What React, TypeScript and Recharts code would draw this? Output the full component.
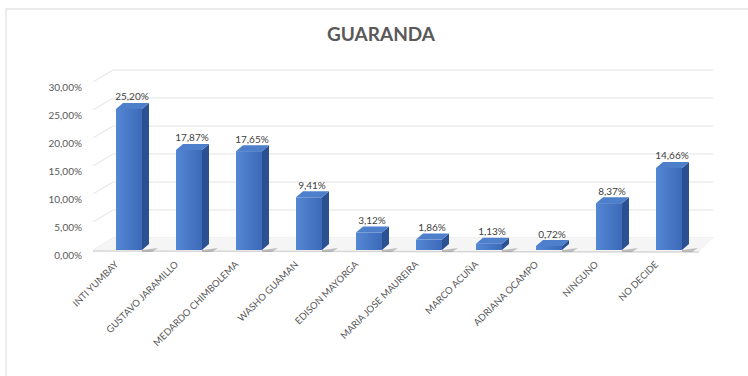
import { Bar, BarChart, CartesianGrid, LabelList, XAxis, YAxis } from 'recharts'

const candidates = ['INTI YUMBAY', 'GUSTAVO JARAMILLO', 'MEDARDO CHIMBOLEMA', 'WASHO GUAMAN', 'EDISON MAYORGA', 'MARIA JOSE MAUREIRA', 'MARCO ACUÑA', 'ADRIANA OCAMPO', 'NINGUNO', 'NO DECIDE']
const shares = [25.2, 17.87, 17.65, 9.41, 3.12, 1.86, 1.13, 0.72, 8.37, 14.66]
const yTicks = [0, 5, 10, 15, 20, 25, 30]

const rows = candidates.map((name, i) => ({ name, value: shares[i] }))

const pct = (v: number) => `${v.toFixed(2).replace('.', ',')}%`
const FONT = 'Lato, "Open Sans", sans-serif'
const DX = 14
const DY = 12

function Bar3D(props: any) {
  const { x, y, width, height } = props
  if (width == null || height == null) return null
  const d = 7
  return (
    <g>
      <defs>
        <linearGradient id="front" x1="0" y1="0" x2="1" y2="0">
          <stop offset="0%" stopColor="#5587d4" />
          <stop offset="100%" stopColor="#3c6ab8" />
        </linearGradient>
      </defs>
      <polygon points={`${x + width},${y + height} ${x + width + 16},${y + height - 2} ${x + width + 10},${y + height + 2} ${x + width},${y + height + 2}`} fill="#8a8a8a" opacity={0.5} />
      <rect x={x} y={y} width={width} height={height} fill="url(#front)" />
      <polygon points={`${x + width},${y} ${x + width + d},${y - 6} ${x + width + d},${y + height - 6} ${x + width},${y + height}`} fill="#2b5193" />
      <polygon points={`${x},${y} ${x + d},${y - 6} ${x + width + d},${y - 6} ${x + width},${y}`} fill="#4d7fcb" />
    </g>
  )
}

function GridLine(props: any) {
  const { x1, y1, x2, key } = props
  const isFloor = Math.abs(y1 - 250) < 1
  return (
    <g key={key}>
      <line x1={x1 - 6} y1={y1} x2={x1 + DX} y2={y1 - DY} stroke="#e3e3e3" strokeWidth={1} />
      <line x1={x1 + DX} y1={y1 - DY} x2={x2 + DX} y2={y1 - DY} stroke="#e3e3e3" strokeWidth={1} />
      {isFloor ? (
        <g>
          <polygon points={`${x1 - 6},${y1} ${x1 + DX},${y1 - DY} ${x2 + DX},${y1 - DY} ${x2},${y1 + 2}`} fill="#f5f5f5" />
          <line x1={x1 - 6} y1={y1 + 1} x2={x2} y2={y1 + 2} stroke="#d6d6d6" strokeWidth={1.5} />
        </g>
      ) : null}
    </g>
  )
}

function YTick(props: any) {
  const { y, payload } = props
  return (
    <text x={82} y={y + 5} dy="0.355em" textAnchor="end" fontSize={10} fill="#595959" fontFamily={FONT}>
      {pct(payload.value)}
    </text>
  )
}

function XTick(props: any) {
  const { x, payload } = props
  const tx = x - 10
  const ty = 265
  return (
    <text x={tx} y={ty} textAnchor="end" fontSize={9.5} fill="#595959" fontFamily={FONT} transform={`rotate(-45 ${tx} ${ty})`}>
      {payload.value}
    </text>
  )
}

function ValueLabel(props: any) {
  const { x, y, width, value } = props
  return (
    <text x={x + width / 2 + 3} y={y - 12} dy="0.355em" textAnchor="middle" fontSize={10} fill="#404040" fontFamily={FONT}>
      {pct(value)}
    </text>
  )
}

export default function App() {
  return (
    <div style={{ position: 'absolute', left: 0, top: 0, width: 748, height: 376, background: '#fff', overflow: 'hidden' }}>
      <svg width={748} height={376} style={{ position: 'absolute', left: 0, top: 0 }}>
        <rect x={6} y={9} width={800} height={400} fill="none" stroke="#e6e6e6" strokeWidth={1.5} />
        <text x={381} y={41} textAnchor="middle" fontSize={19} fontWeight={700} fill="#595959" fontFamily={FONT}>
          GUARANDA
        </text>
      </svg>
      <div style={{ position: 'absolute', left: 0, top: 0 }}>
        <BarChart width={748} height={376} data={rows} margin={{ top: 82, right: 49, bottom: 0, left: 0 }} barSize={26}>
          <CartesianGrid vertical={false} horizontal={GridLine} />
          <XAxis dataKey="name" interval={0} height={126} axisLine={false} tickLine={false} tick={XTick} />
          <YAxis width={99} domain={[0, 30]} ticks={yTicks} axisLine={false} tickLine={false} tick={YTick} />
          <Bar dataKey="value" shape={Bar3D} isAnimationActive={false}>
            <LabelList dataKey="value" content={ValueLabel} />
          </Bar>
        </BarChart>
      </div>
    </div>
  )
}
